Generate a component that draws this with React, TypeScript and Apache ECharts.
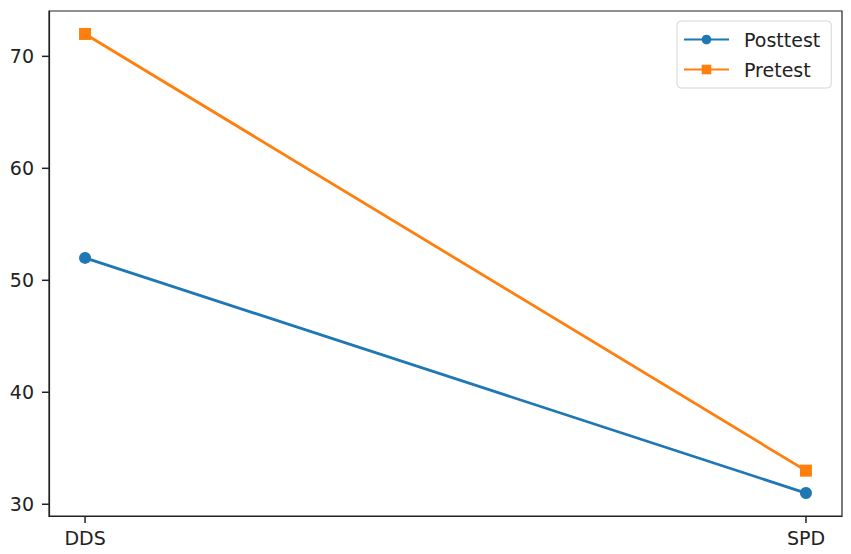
import React, { useEffect, useRef } from "react";
import * as echarts from "echarts";

const categories = ["DDS", "SPD"];
const posttest = [52, 31];
const pretest = [72, 33];
const yTicks = [30, 40, 50, 60, 70];

const FONT = "DejaVu Sans";
const TEXT = "#222";
const SPINE = "#222";
const X_MIN = -0.05;
const X_MAX = 1.05;
const Y_MIN = 28.95;
const Y_MAX = 74.05;
const TICK_LEN = 7;

const App: React.FC = () => {
    const ref = useRef<HTMLDivElement | null>(null);

    useEffect(() => {
        document.body.style.margin = "0";
        if (!ref.current) return;
        const inst = echarts.init(ref.current, undefined, { renderer: "svg" });

        const xs = categories.map((_, i) => i);

        inst.setOption({
            animation: false,
            backgroundColor: "#fff",
            textStyle: { fontFamily: FONT },
            grid: {
                left: 49,
                right: 9,
                top: 11,
                bottom: 38,
                show: true,
                borderColor: SPINE,
                borderWidth: 1.2,
                backgroundColor: "transparent",
            },
            legend: {
                left: 677,
                top: 21,
                orient: "vertical",
                padding: [9, 11, 9, 6],
                itemWidth: 45,
                itemHeight: 12,
                itemGap: 11,
                borderColor: "#d6d6d6",
                borderWidth: 1,
                borderRadius: 4,
                backgroundColor: "rgba(255,255,255,0.8)",
                textStyle: { fontSize: 19, color: TEXT, fontFamily: FONT, padding: [0, 0, 0, 10] },
                data: ["Posttest", "Pretest"],
            },
            xAxis: {
                type: "value",
                min: X_MIN,
                max: X_MAX,
                axisLine: { show: true, onZero: false, lineStyle: { color: SPINE, width: 1.2 } },
                splitLine: { show: false },
                axisTick: { show: false },
                axisLabel: {
                    customValues: xs,
                    margin: 12,
                    fontSize: 19,
                    color: TEXT,
                    fontFamily: FONT,
                    formatter: (v: number) => categories[Math.round(v)] ?? "",
                },
            },
            yAxis: {
                type: "value",
                min: Y_MIN,
                max: Y_MAX,
                axisLine: { show: true, onZero: false, lineStyle: { color: SPINE, width: 1.2 } },
                splitLine: { show: false },
                axisTick: { show: false },
                axisLabel: {
                    customValues: yTicks,
                    margin: 15,
                    fontSize: 19,
                    color: TEXT,
                    fontFamily: FONT,
                },
            },
            series: [
                {
                    name: "Posttest",
                    type: "line",
                    data: xs.map((x, i) => [x, posttest[i]]),
                    symbol: "circle",
                    symbolSize: 12,
                    showAllSymbol: true,
                    lineStyle: { color: "#1f77b4", width: 2.8 },
                    itemStyle: { color: "#1f77b4" },
                },
                {
                    name: "Pretest",
                    type: "line",
                    data: xs.map((x, i) => [x, pretest[i]]),
                    symbol: "rect",
                    symbolSize: 12,
                    showAllSymbol: true,
                    lineStyle: { color: "#ff7f0e", width: 2.8 },
                    itemStyle: { color: "#ff7f0e" },
                },
            ],
        });

        // outward tick marks, positioned through the chart's own scales
        const px = (x: number, y: number) =>
            inst.convertToPixel({ gridIndex: 0 }, [x, y]) as number[];
        const tickStyle = { stroke: SPINE, lineWidth: 1.5 };
        const elements: any[] = [
            ...yTicks.map((v) => {
                const p = px(X_MIN, v);
                return {
                    type: "line",
                    silent: true,
                    z: 100,
                    shape: { x1: p[0] - TICK_LEN, y1: p[1], x2: p[0], y2: p[1] },
                    style: tickStyle,
                };
            }),
            ...xs.map((x) => {
                const p = px(x, Y_MIN);
                return {
                    type: "line",
                    silent: true,
                    z: 100,
                    shape: { x1: p[0], y1: p[1], x2: p[0], y2: p[1] + TICK_LEN },
                    style: tickStyle,
                };
            }),
        ];
        inst.setOption({ graphic: { elements } });

        return () => inst.dispose();
    }, []);

    return <div ref={ref} style={{ width: 851, height: 554 }} />;
};

export default App;
